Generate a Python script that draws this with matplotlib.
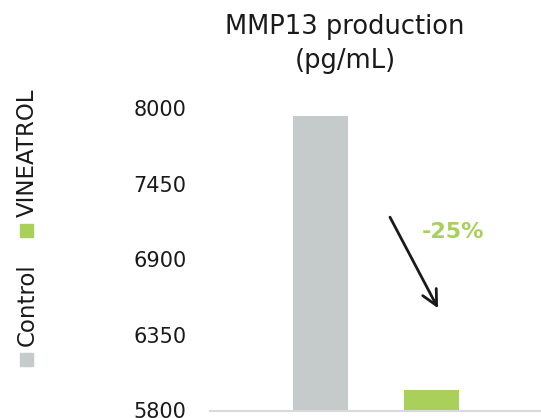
import matplotlib
matplotlib.use("Agg")
import matplotlib.pyplot as plt
from matplotlib.patches import Rectangle

categories = ["Control", "VINEATROL"]
values = [7942, 5946]
colors = ["#c5cacb", "#a8d05a"]
yticks = [5800, 6350, 6900, 7450, 8000]
title = "MMP13 production\n(pg/mL)"
change_label = "-25%"

plt.rcParams['font.family'] = ['DejaVu Sans']

W, H = 541, 418
fig = plt.figure(figsize=(W/100, H/100), dpi=100)
ax = fig.add_axes([210/W, 1 - 410.5/H, 332/W, (410.5-108)/H])

x = [0, 1]
ax.bar(x, values, width=0.5, color=colors, zorder=2)
ax.set_xlim(-0.995, 1.995)
ax.set_ylim(yticks[0], yticks[-1])
ax.set_yticks(yticks)
ax.set_yticklabels([str(t) for t in yticks], fontsize=15, color="#1a1a1a")
ax.tick_params(axis='y', length=0, pad=17)
ax.set_xticks([])
for s in ["left", "right", "top"]:
    ax.spines[s].set_visible(False)
ax.spines["bottom"].set_color("#d9d9d9")
ax.spines["bottom"].set_linewidth(1.5)
ax.patch.set_alpha(0)

ax.annotate("", xy=(1.059, 6543), xytext=(0.626, 7206),
            arrowprops=dict(arrowstyle="->,head_length=1.1,head_width=0.55",
                            color="#1a1a1a", lw=2.0, shrinkA=0, shrinkB=0))
ax.text(1.194, 7097, change_label, color=colors[1], fontsize=16,
        fontweight="bold", ha="center", va="center")

fig.text(345/W, 1 - 44/H, title, ha="center", va="center", fontsize=18.5,
         color="#1a1a1a", linespacing=1.35)

# legend (rotated)
sq = 13
for lab, col, ytop_sq, ymid_txt in [(categories[0], colors[0], 353, 305),
                                     (categories[1], colors[1], 224, 153)]:
    fig.patches.append(Rectangle((20/W, 1 - (ytop_sq+sq)/H), sq/W, sq/H,
                                 transform=fig.transFigure, color=col))
    fig.text(27/W, 1 - ymid_txt/H, lab, rotation=90, ha="center", va="center",
             fontsize=16.5, color="#1a1a1a")

fig.savefig("out.png", dpi=100)
